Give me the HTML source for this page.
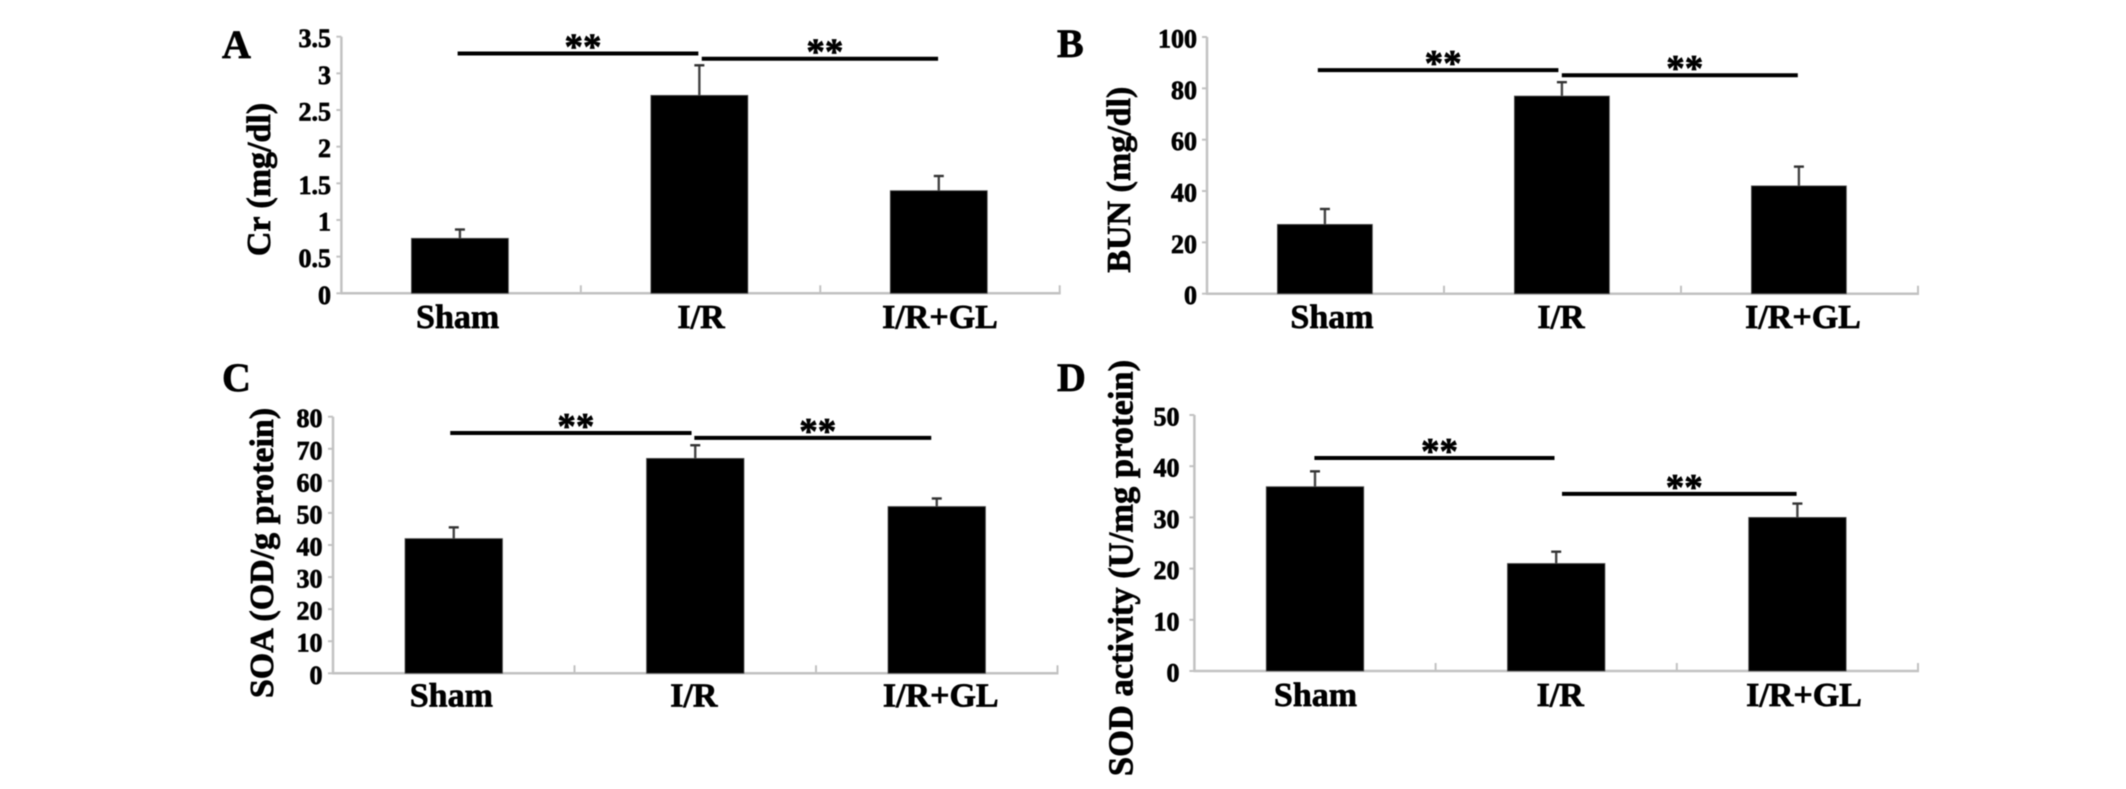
<!DOCTYPE html>
<html lang="en">
<head>
<meta charset="utf-8">
<title>Renal function and oxidative stress bar charts</title>
<style>
  html, body { margin: 0; padding: 0; background: #fff; }
  body { width: 2126px; height: 789px; overflow: hidden; }
  svg { display: block; filter: blur(0.4px); }
  text { font-family: "Liberation Serif", serif; font-weight: bold; fill: #000; stroke: #000; stroke-width: 0.7px; }
</style>
</head>
<body>
<svg id="figure" xmlns="http://www.w3.org/2000/svg" width="2126" height="789" viewBox="0 0 2126 789"></svg>
<script>
const categories = ["Sham", "I/R", "I/R+GL"];

const crValues = [0.75, 2.7, 1.4];
const crErrors = [0.12, 0.41, 0.2];
const crTicks = [0, 0.5, 1, 1.5, 2, 2.5, 3, 3.5];
const crBrackets = [3.27, 3.2];

const bunValues = [27, 77, 42];
const bunErrors = [6, 5.4, 7.5];
const bunTicks = [0, 20, 40, 60, 80, 100];
const bunBrackets = [87.1, 85.1];

const soaValues = [42, 67, 52];
const soaErrors = [3.5, 4.1, 2.5];
const soaTicks = [0, 10, 20, 30, 40, 50, 60, 70, 80];
const soaBrackets = [74.9, 73.4];

const sodValues = [36, 21, 30];
const sodErrors = [3, 2.3, 2.7];
const sodTicks = [0, 10, 20, 30, 40, 50];
const sodBrackets = [41.6, 34.6];

const panels = [
  { id: "a", letter: "A", letterX: 222, letterY: 58, title: "Cr (mg/dl)", titleX: 270, titleY: 179.5, titleSize: 34,
    x0: 341.4, x1: 1059.7, yBase: 293.3, yTop: 36.7, yMax: 3.5, barW: 97, barDx: -1.2, tickRight: 331,
    labelY: 328, labelDx: [-3.5, 0.5, 0], bracketDx: [[-3.5, -2.2], [1.2, -1.9]],
    values: crValues, errors: crErrors, ticks: crTicks, brackets: crBrackets },
  { id: "b", letter: "B", letterX: 1057, letterY: 57, title: "BUN (mg/dl)", titleX: 1130, titleY: 179.7, titleSize: 34,
    x0: 1207, x1: 1918, yBase: 293.7, yTop: 37, yMax: 100, barW: 95, barDx: -0.6, tickRight: 1197,
    labelY: 328, labelDx: [6.5, -1.5, 3.5], bracketDx: [[-7.7, -4.1], [-0.7, -1.7]],
    values: bunValues, errors: bunErrors, ticks: bunTicks, brackets: bunBrackets },
  { id: "c", letter: "C", letterX: 222, letterY: 391, title: "SOA (OD/g protein)", titleX: 273, titleY: 553, titleSize: 34,
    x0: 333, x1: 1057.5, yBase: 673.3, yTop: 416.7, yMax: 80, barW: 97.5, barDx: 0, tickRight: 322.5,
    labelY: 706.7, labelDx: [-2.4, -1.4, 4], bracketDx: [[-3.5, -3.7], [-0.9, -5.5]],
    values: soaValues, errors: soaErrors, ticks: soaTicks, brackets: soaBrackets },
  { id: "d", letter: "D", letterX: 1057, letterY: 391, title: "SOD activity (U/mg protein)", titleX: 1132.5, titleY: 568, titleSize: 34.5,
    x0: 1194.4, x1: 1918, yBase: 671, yTop: 415, yMax: 50, barW: 97.5, barDx: 0, tickRight: 1179.5,
    labelY: 706, labelDx: [0.5, 4, 6.6], bracketDx: [[-0.6, -1.7], [5.8, -0.8]],
    values: sodValues, errors: sodErrors, ticks: sodTicks, brackets: sodBrackets }
];

const SVG_NS = "http://www.w3.org/2000/svg";
const AXIS_COLOR = "#c2c2c2";

function make(parent, tag, attrs, content) {
  const node = document.createElementNS(SVG_NS, tag);
  Object.keys(attrs).forEach(function (k) { node.setAttribute(k, attrs[k]); });
  if (content !== undefined) node.textContent = content;
  parent.appendChild(node);
  return node;
}

const figure = document.getElementById("figure");

panels.forEach(function (p) {
  const band = (p.x1 - p.x0) / categories.length;
  const xCenter = function (i) { return p.x0 + (i + 0.5) * band; };
  const yScale = function (v) { return p.yBase - (v / p.yMax) * (p.yBase - p.yTop); };

  const g = make(figure, "g", {});
  
  

  const letter = make(g, "text", { x: p.letterX, y: p.letterY, "font-size": 40 }, p.letter);
  
  

  const title = make(g, "text", {
    x: p.titleX, y: p.titleY, "font-size": p.titleSize, "text-anchor": "middle",
    transform: "rotate(-90 " + p.titleX + " " + p.titleY + ")"
  }, p.title);
  
  

  const yAxis = make(g, "line", { x1: p.x0, x2: p.x0, y1: p.yTop, y2: p.yBase, stroke: AXIS_COLOR, "stroke-width": 2.5 });
  
  

  const xAxis = make(g, "line", { x1: p.x0 - 1, x2: p.x1 + 1, y1: p.yBase, y2: p.yBase, stroke: AXIS_COLOR, "stroke-width": 2.5 });
  
  

  p.ticks.forEach(function (t) {
    const y = yScale(t);
    const mark = make(g, "line", { x1: p.x0 - 5, x2: p.x0, y1: y, y2: y, stroke: AXIS_COLOR, "stroke-width": 2 });
    
    
    const label = make(g, "text", { x: p.tickRight, y: y + 10.5, "font-size": 26, "text-anchor": "end" }, String(t));
    
    
  });

  for (let i = 1; i <= categories.length; i++) {
    const x = p.x0 + i * band;
    const mark = make(g, "line", { x1: x, x2: x, y1: p.yBase - 8, y2: p.yBase, stroke: AXIS_COLOR, "stroke-width": 2 });
    
    
  }

  categories.forEach(function (c, i) {
    const cx = xCenter(i) + p.barDx;
    const top = yScale(p.values[i]);
    const errTop = yScale(p.values[i] + p.errors[i]);

    const stem = make(g, "line", { x1: cx, x2: cx, y1: errTop, y2: top, stroke: "#444", "stroke-width": 2.4 });
    
    

    const cap = make(g, "line", { x1: cx - 5, x2: cx + 5, y1: errTop, y2: errTop, stroke: "#333", "stroke-width": 2.4 });
    
    

    const bar = make(g, "rect", { x: cx - p.barW / 2, y: top, width: p.barW, height: p.yBase - top, fill: "#000", stroke: "#555", "stroke-width": 0.8 });
    
    

    const label = make(g, "text", { x: xCenter(i) + p.labelDx[i], y: p.labelY, "font-size": 34, "text-anchor": "middle" }, c);
    
    
  });

  p.brackets.forEach(function (level, i) {
    const y = yScale(level);
    const startX = xCenter(i) + p.bracketDx[i][0];
    const endX = xCenter(i + 1) + p.bracketDx[i][1];
    const line = make(g, "line", { x1: startX, x2: endX, y1: y, y2: y, stroke: "#000", "stroke-width": 4 });
    
    
    const stars = make(g, "text", { x: (startX + endX) / 2 + 5, y: y + 5.5, "font-size": 37, "text-anchor": "middle" }, "**");
    
    
  });
});
</script>
</body>
</html>
